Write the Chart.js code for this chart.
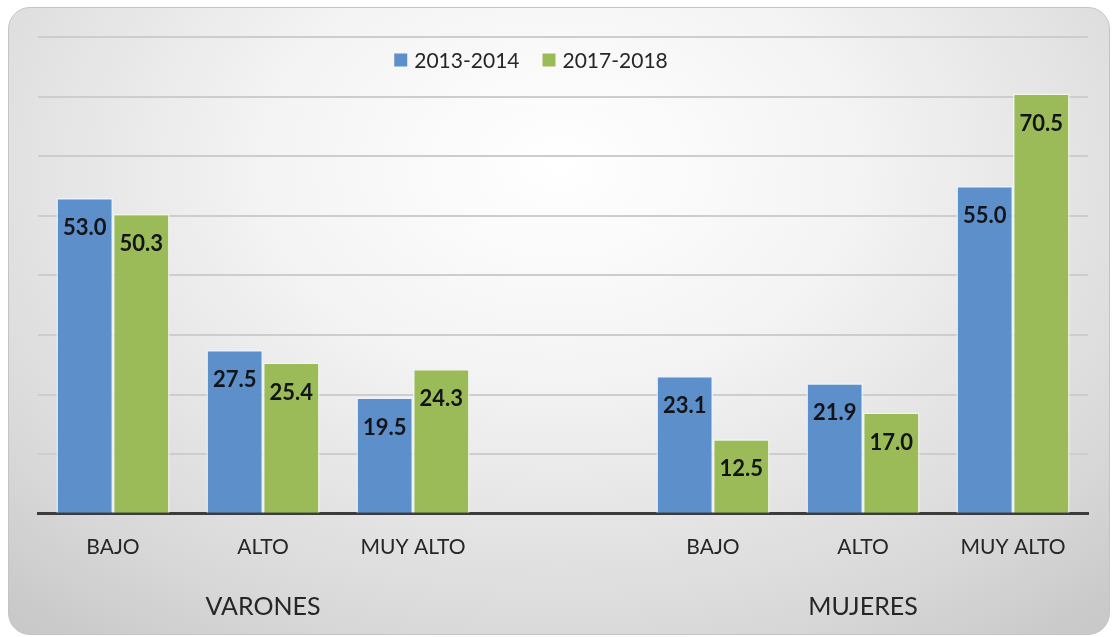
<!DOCTYPE html>
<html>
<head>
<meta charset="utf-8">
<script src="https://cdn.jsdelivr.net/npm/chart.js@4.4.0/dist/chart.umd.min.js"></script>
<style>
  html, body { margin:0; padding:0; background:#fff; }
  #frame {
    position:absolute; left:8px; top:7px; width:1100px; height:626px;
    border:1px solid #c4c4c4; border-radius:22px;
    background: radial-gradient(ellipse 75% 95% at 50% 25%, #ffffff 0%, #f4f4f4 35%, #d9d9d9 80%, #c9c9c9 100%);
  }
  #wrap { position:absolute; left:0; top:0; width:1116px; height:637px; }
</style>
</head>
<body>
<div id="frame"></div>
<div id="wrap"><canvas id="chart" width="1116" height="637"></canvas></div>
<script>
const categories = ['BAJO', 'ALTO', 'MUY ALTO', '', 'BAJO', 'ALTO', 'MUY ALTO'];
const groups = ['', 'VARONES', '', '', '', 'MUJERES', ''];
const seriesNames = ['2013-2014', '2017-2018'];
const values2013 = [53.0, 27.5, 19.5, null, 23.1, 21.9, 55.0];
const values2017 = [50.3, 25.4, 24.3, null, 12.5, 17.0, 70.5];
const yTicks = [0, 10, 20, 30, 40, 50, 60, 70, 80];

const FONT = 'Lato, "Open Sans", sans-serif';

// value labels inside the top of each bar
const barLabels = {
  id: 'barLabels',
  afterDatasetsDraw(chart){
    const ctx = chart.ctx;
    ctx.save();
    ctx.font = 'bold 22px ' + FONT;
    ctx.fillStyle = '#121418';
    ctx.textAlign = 'center';
    ctx.textBaseline = 'middle';
    chart.data.datasets.forEach((ds, i) => {
      chart.getDatasetMeta(i).data.forEach((bar, j) => {
        const v = ds.data[j];
        if(v == null) return;
        ctx.fillText(v.toFixed(1), bar.x, bar.y + 30);
      });
    });
    ctx.restore();
  }
};

// legend laid over the top of the plot, like the Excel original
const overlayLegend = {
  id: 'overlayLegend',
  afterDraw(chart){
    const ctx = chart.ctx;
    const box = 13, gapText = 7, gapItem = 23, cx = 531, cy = 60;
    ctx.save();
    ctx.font = '21px ' + FONT;
    ctx.textBaseline = 'middle';
    const items = chart.data.datasets.map(ds => ({ text: ds.label, color: ds.backgroundColor, w: ctx.measureText(ds.label).width }));
    const total = items.reduce((s, it) => s + box + gapText + it.w, 0) + gapItem * (items.length - 1);
    let x = cx - total / 2;
    items.forEach(it => {
      ctx.fillStyle = it.color;
      ctx.fillRect(x, cy - box / 2, box, box);
      ctx.fillStyle = '#262626';
      ctx.fillText(it.text, x + box + gapText, cy + 1);
      x += box + gapText + it.w + gapItem;
    });
    ctx.restore();
  }
};

new Chart(document.getElementById('chart').getContext('2d'), {
  type: 'bar',
  data: {
    labels: categories,
    datasets: [
      { label: seriesNames[0], data: values2013, backgroundColor: '#5d8fca',
        borderColor: 'rgba(235,243,252,0.9)', borderWidth: 1.5,
        barPercentage: 1, categoryPercentage: 0.755 },
      { label: seriesNames[1], data: values2017, backgroundColor: '#9bbb59',
        borderColor: 'rgba(240,248,230,0.9)', borderWidth: 1.5,
        barPercentage: 1, categoryPercentage: 0.755 }
    ]
  },
  options: {
    responsive: false,
    animation: false,
    layout: { padding: { left: 38, right: 28, top: 37, bottom: 4 } },
    plugins: {
      legend: { display: false },
      tooltip: { enabled: false }
    },
    scales: {
      x: {
        offset: true,
        grid: { display: false, drawTicks: false },
        border: { display: true, color: '#3c3c3c', width: 3 },
        ticks: { color: '#262626', padding: 21, autoSkip: false, maxRotation: 0,
                 font: { family: FONT, size: 21 } }
      },
      xg: {
        type: 'category',
        labels: groups,
        position: 'bottom',
        offset: true,
        grid: { display: false, drawTicks: false },
        border: { display: false },
        ticks: { color: '#262626', padding: 11, autoSkip: false, maxRotation: 0,
                 font: { family: FONT, size: 25 } }
      },
      y: {
        min: yTicks[0],
        max: yTicks[yTicks.length - 1],
        afterBuildTicks: s => { s.ticks = yTicks.map(v => ({ value: v })); },
        grid: { color: '#cdcdcd', lineWidth: 2, drawTicks: false },
        border: { display: false },
        ticks: { display: false }
      }
    }
  },
  plugins: [barLabels, overlayLegend]
});
</script>
</body>
</html>
